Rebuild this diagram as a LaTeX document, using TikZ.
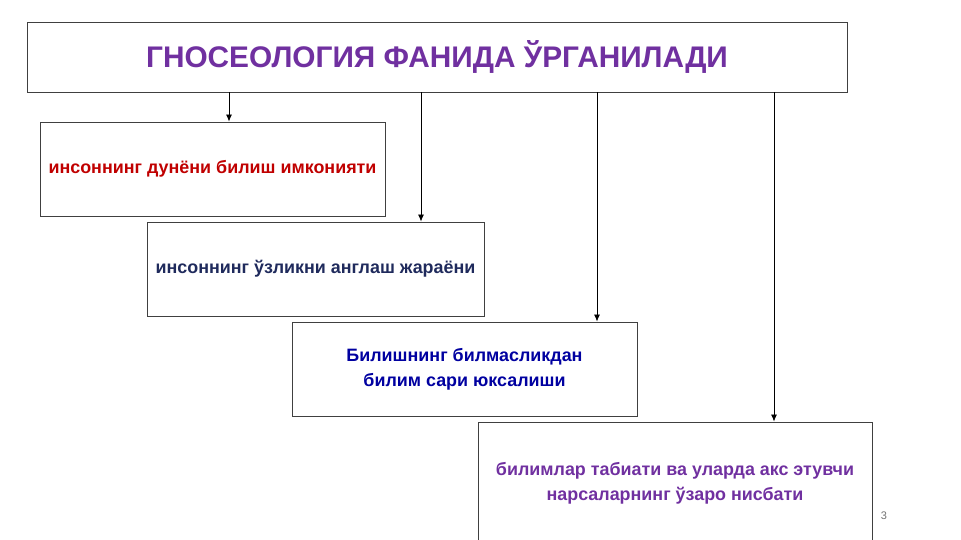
\documentclass[tikz,border=0pt]{standalone}
\usepackage{fontspec}
\setmainfont{Liberation Sans}
\usetikzlibrary{arrows.meta}
\definecolor{titlepurple}{HTML}{7030A0}
\definecolor{darkred}{HTML}{C00000}
\definecolor{navy}{HTML}{1F2A5C}
\definecolor{deepblue}{HTML}{0000A0}
\tikzset{
  topicbox/.style={draw=black!75, line width=0.9pt, inner sep=0pt, align=center, font=\bfseries\fontsize{17.9}{25}\selectfont},
  link/.style={-{Latex[length=7pt,width=6pt]}, line width=0.8pt}
}
\begin{document}
\begin{tikzpicture}[x=1pt,y=-1pt]
\useasboundingbox (0,0) rectangle (961,540);
% title
\node[topicbox, minimum width=820pt, minimum height=70pt, font=\bfseries\fontsize{29.8}{32}\selectfont, text=titlepurple]
  (title) at (437,57) {ГНОСЕОЛОГИЯ ФАНИДА ЎРГАНИЛАДИ};
% topics
\node[topicbox, minimum width=345pt, minimum height=94pt, text=darkred] (possib) at (212.5,169) {\raisebox{-2pt}{инсоннинг дунёни билиш имконияти}};
\node[topicbox, minimum width=337pt, minimum height=94pt, text=navy] (self) at (315.5,269) {\raisebox{-2pt}{инсоннинг ўзликни англаш жараёни}};
\node[topicbox, minimum width=345pt, minimum height=94pt, text=deepblue] (rise) at (464.5,369) {Билишнинг билмасликдан\\билим сари юксалиши};
\node[topicbox, minimum width=394pt, minimum height=122pt, text=titlepurple] (nature) at (675,483) {билимлар табиати ва уларда акс этувчи\\нарсаларнинг ўзаро нисбати};
\node[text=black!55, font=\fontsize{11}{13}\selectfont] (pagenum) at (884,516) {3};
% links
\draw[link] (title.south -| 229,0) -- (possib.north -| 229,0);
\draw[link] (title.south -| 421,0) -- (self.north -| 421,0);
\draw[link] (title.south -| 597,0) -- (rise.north -| 597,0);
\draw[link] (title.south -| 774,0) -- (nature.north -| 774,0);
\end{tikzpicture}
\end{document}
